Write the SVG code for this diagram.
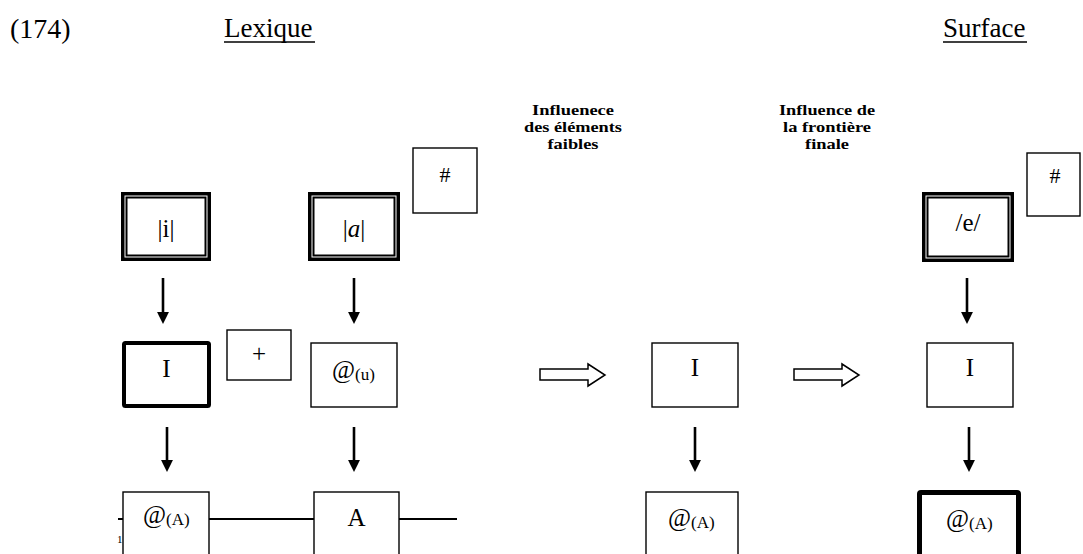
<svg xmlns="http://www.w3.org/2000/svg" width="1083" height="554" viewBox="0 0 1083 554">
<style>
text{font-family:"Liberation Serif","Times New Roman",serif;fill:#000}
.t{font-size:27px}
.lbl{font-size:15.3px;font-weight:bold;text-anchor:middle}
.bx{font-size:25px}
.c{text-anchor:middle}
.sub{font-size:17px}
.thin{fill:#fff;stroke:#000;stroke-width:1.4}
.dblo{fill:#fff;stroke:#000;stroke-width:3.5}
.dbli{fill:none;stroke:#000;stroke-width:2}
.arr{stroke:#000;stroke-width:2.6;fill:none;marker-end:url(#ah)}
.hol{fill:#fff;stroke:#000;stroke-width:1.5;stroke-linejoin:miter}
.ln{stroke:#000;stroke-width:2;fill:none}
</style>
<defs>
<marker id="ah" markerUnits="userSpaceOnUse" markerWidth="12" markerHeight="12" viewBox="0 0 11 11" refX="1" refY="5.5" orient="auto">
<path d="M0,0 L11,5.5 L0,11 z" fill="#000"/>
</marker>
</defs>
<rect width="1083" height="554" fill="#fff"/>

<g id="headers">
<text class="t" x="10" y="38" style="font-size:28px">(174)</text>
<text class="t" x="224" y="37">Lexique</text>
<line x1="224" y1="42" x2="315" y2="42" stroke="#000" stroke-width="1.5"/>
<text class="t" x="943" y="37">Surface</text>
<line x1="943" y1="42" x2="1027" y2="42" stroke="#000" stroke-width="1.5"/>
</g>

<g id="label-faibles">
<text class="lbl" x="573" y="115" textLength="82" lengthAdjust="spacingAndGlyphs">Influenece</text>
<text class="lbl" x="573" y="132" textLength="98" lengthAdjust="spacingAndGlyphs">des éléments</text>
<text class="lbl" x="573" y="149" textLength="51" lengthAdjust="spacingAndGlyphs">faibles</text>
</g>
<g id="label-frontiere">
<text class="lbl" x="827" y="115" textLength="96" lengthAdjust="spacingAndGlyphs">Influence de</text>
<text class="lbl" x="827" y="132" textLength="88" lengthAdjust="spacingAndGlyphs">la frontière</text>
<text class="lbl" x="827" y="149" textLength="44" lengthAdjust="spacingAndGlyphs">finale</text>
</g>

<text x="117" y="543" style="font-size:11px">1</text>

<g id="connectors">
<line class="arr" x1="163" y1="278" x2="163" y2="313"/>
<line class="arr" x1="354" y1="278" x2="354" y2="313"/>
<line class="arr" x1="967" y1="278" x2="967" y2="313"/>
<line class="arr" x1="167" y1="427" x2="167" y2="461"/>
<line class="arr" x1="354" y1="427" x2="354" y2="461"/>
<line class="arr" x1="695" y1="427" x2="695" y2="461"/>
<line class="arr" x1="969" y1="427" x2="969" y2="461"/>
<path class="hol" d="M540,369 L588,369 L588,364 L605,375 L588,386 L588,380 L540,380 z"/>
<path class="hol" d="M794,369 L842,369 L842,364 L859,375 L842,386 L842,380 L794,380 z"/>
<line class="ln" x1="118" y1="519" x2="457" y2="519"/>
</g>

<g id="node-i">
<rect class="dblo" x="122.75" y="193.75" width="86.5" height="65.5"/>
<rect class="dbli" x="126.5" y="197.5" width="79" height="58"/>
<text class="bx c" x="166" y="237">|i|</text>
</g>
<g id="node-a">
<rect class="dblo" x="309.75" y="193.75" width="88.5" height="65.5"/>
<rect class="dbli" x="313.5" y="197.5" width="81" height="58"/>
<text class="bx c" x="354" y="237">|<tspan font-style="italic">a</tspan>|</text>
</g>
<g id="node-hash1">
<rect class="thin" x="413" y="148" width="64" height="65"/>
<text class="c" x="445" y="182" style="font-size:22px">#</text>
</g>
<g id="node-e">
<rect class="dblo" x="923.75" y="193.75" width="88.5" height="66.5"/>
<rect class="dbli" x="927.5" y="197.5" width="81" height="59"/>
<text class="bx c" x="968" y="231">/e/</text>
</g>
<g id="node-hash2">
<rect class="thin" x="1027" y="153" width="53" height="63"/>
<text class="c" x="1055" y="183" style="font-size:22px">#</text>
</g>

<g id="node-I1">
<rect x="124" y="343" width="85" height="63" fill="#fff" stroke="#000" stroke-width="4" rx="1.5"/>
<text class="bx c" x="166.5" y="377">I</text>
</g>
<g id="node-plus">
<rect class="thin" x="227" y="330" width="64" height="50"/>
<text class="bx c" x="259" y="362">+</text>
</g>
<g id="node-au">
<rect class="thin" x="311" y="343" width="86" height="64"/>
<text class="bx" x="332" y="378">@<tspan class="sub" dy="2">(u)</tspan></text>
</g>
<g id="node-I2">
<rect class="thin" x="652" y="343" width="86" height="64"/>
<text class="bx c" x="695" y="376">I</text>
</g>
<g id="node-I3">
<rect class="thin" x="927" y="343" width="86" height="64"/>
<text class="bx c" x="970" y="376">I</text>
</g>

<g id="node-aA1">
<rect class="thin" x="123" y="492" width="86" height="80"/>
<text class="bx" x="143" y="523">@<tspan class="sub" dy="2">(A)</tspan></text>
</g>
<g id="node-A">
<rect class="thin" x="314" y="492" width="85" height="80"/>
<text class="bx c" x="356.5" y="526">A</text>
</g>
<g id="node-aA2">
<rect class="thin" x="646" y="492" width="92" height="80"/>
<text class="bx" x="668" y="526">@<tspan class="sub" dy="2">(A)</tspan></text>
</g>
<g id="node-aA3">
<rect x="919.5" y="492.5" width="99" height="80" fill="#fff" stroke="#000" stroke-width="5" rx="1.5"/>
<text class="bx" x="946" y="527">@<tspan class="sub" dy="2">(A)</tspan></text>
</g>
</svg>
